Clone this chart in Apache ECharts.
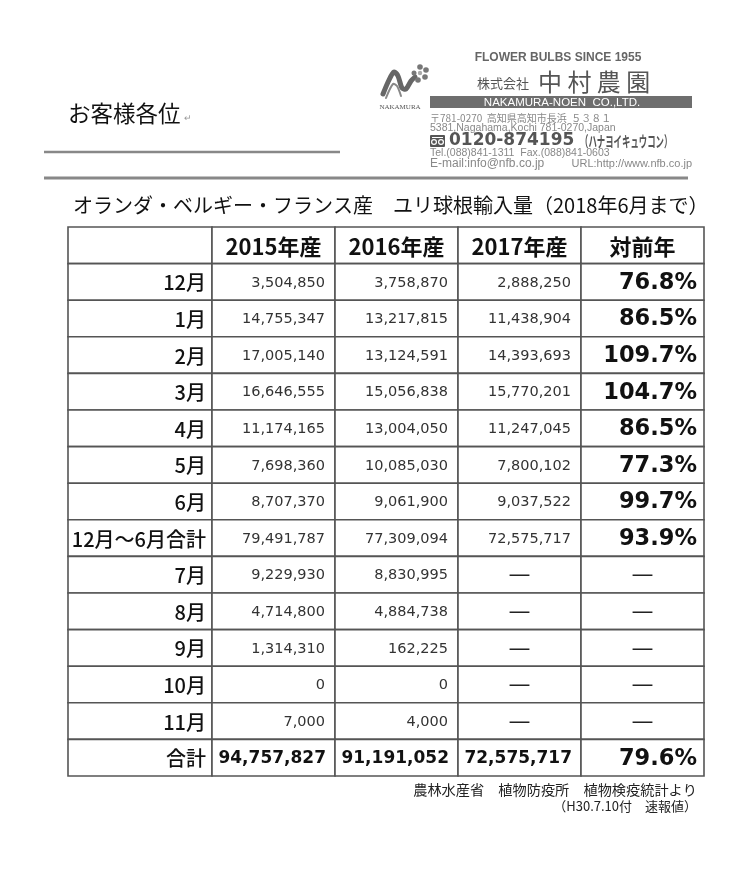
<!DOCTYPE html>
<html><head><meta charset="utf-8">
<script src="https://cdn.jsdelivr.net/npm/echarts@6/dist/echarts.min.js"></script>
<style>html,body{margin:0;padding:0;background:#fff}#c{width:752px;height:892px}</style>
</head><body><div id="c"></div>
<script>
const rowLabels = ['12月','1月','2月','3月','4月','5月','6月','12月～6月合計','7月','8月','9月','10月','11月','合計'];
const colHeaders = ['2015年産','2016年産','2017年産','対前年'];
const v2015 = [3504850,14755347,17005140,16646555,11174165,7698360,8707370,79491787,9229930,4714800,1314310,0,7000,94757827];
const v2016 = [3758870,13217815,13124591,15056838,13004050,10085030,9061900,77309094,8830995,4884738,162225,0,4000,91191052];
const v2017 = [2888250,11438904,14393693,15770201,11247045,7800102,9037522,72575717,null,null,null,null,null,72575717];
const yoy = [76.8,86.5,109.7,104.7,86.5,77.3,99.7,93.9,null,null,null,null,null,79.6];
const title = 'オランダ・ベルギー・フランス産　ユリ球根輸入量（2018年6月まで）';

const JP = '"Noto Sans CJK JP"';
const NUM = '"DejaVu Sans"';
const rows = [''].concat(rowLabels);
const lastRow = rowLabels.length;

const leftCells = rows.map((t, r) => ({v: [0, r], text: t, kind: 'label'}));
const rightCells = [];
rows.forEach((t, r) => {
  const cols = [v2015, v2016, v2017, yoy];
  for (let c = 0; c < 4; c++) {
    let text, kind;
    if (r === 0) { text = colHeaders[c]; kind = 'header'; }
    else {
      const val = cols[c][r - 1];
      if (val === null) { text = '—'; kind = 'dash'; }
      else if (c === 3) { text = val.toFixed(1) + '%'; kind = 'pct'; }
      else { text = val.toLocaleString('en-US'); kind = (r === lastRow) ? 'numBold' : 'num'; }
    }
    rightCells.push({v: [c, r], text, kind});
  }
});

function makeRender(cells) {
  return function (params, api) {
    const cell = cells[params.dataIndex];
    const c = api.coord([api.value(0), api.value(1)]);
    const s = api.size([1, 1]);
    const x = c[0] - s[0] / 2, y = c[1] - s[1] / 2, w = s[0], h = s[1];
    let ts;
    switch (cell.kind) {
      case 'header': ts = {x: x + w / 2, align: 'center', font: 'bold 22px ' + JP, fill: '#111'}; break;
      case 'label': ts = {x: x + w - 6, align: 'right', font: '500 20px ' + JP, fill: '#111'}; break;
      case 'num': ts = {x: x + w - 10, align: 'right', font: '14.5px ' + NUM, fill: '#333'}; break;
      case 'numBold': ts = {x: x + w - 9, align: 'right', font: 'bold 17px ' + NUM, fill: '#111'}; break;
      case 'pct': ts = {x: x + w - 7, align: 'right', font: 'bold 22.5px ' + NUM, fill: '#111'}; break;
      case 'dash': ts = {x: x + w / 2, align: 'center', font: '22px ' + NUM, fill: '#222'}; break;
    }
    return {
      type: 'group',
      children: [
        {type: 'rect', shape: {x, y, width: w, height: h}, style: {fill: '#fff', stroke: '#555', lineWidth: 1.6}},
        {type: 'text', x: ts.x, y: c[1] + 1, style: {text: cell.text, font: ts.font, fill: ts.fill, align: ts.align, verticalAlign: 'middle'}}
      ]
    };
  };
}

const T = (text, x, y, font, fill, align) => ({type: 'text', x, y, style: {text, font, fill: fill || '#111', align: align || 'left', verticalAlign: 'middle'}});

const kana = T('（ハナヨイキュウコン）', 580, 141, 'bold 15px ' + JP, '#555');
kana.scaleX = 0.56;

const graphics = [
  T('お客様各位', 68, 113, '22.5px ' + JP, '#111'),
  T('↵', 184, 118, '9px ' + JP, '#999'),
  {type: 'line', shape: {x1: 44, y1: 152, x2: 340, y2: 152}, style: {stroke: '#888', lineWidth: 2.5}},
  {type: 'line', shape: {x1: 44, y1: 178, x2: 688, y2: 178}, style: {stroke: '#888', lineWidth: 3}},
  {type: 'polyline', shape: {points: [[383, 94], [389, 80], [394, 72], [398, 76], [402, 88], [406, 89], [411, 81], [415, 77]], smooth: 0.3}, style: {stroke: '#666', lineWidth: 5, fill: null, lineCap: 'round'}},
  {type: 'polyline', shape: {points: [[386, 98], [393, 84], [397, 86], [401, 96]], smooth: 0.3}, style: {stroke: '#888', lineWidth: 2, fill: null, lineCap: 'round'}},
  {type: 'circle', shape: {cx: 420, cy: 67, r: 2.8}, style: {fill: '#777'}},
  {type: 'circle', shape: {cx: 426, cy: 70, r: 2.8}, style: {fill: '#777'}},
  {type: 'circle', shape: {cx: 425, cy: 77, r: 2.8}, style: {fill: '#777'}},
  {type: 'circle', shape: {cx: 418, cy: 80, r: 2.8}, style: {fill: '#777'}},
  {type: 'circle', shape: {cx: 414, cy: 73, r: 2.5}, style: {fill: '#777'}},
  {type: 'circle', shape: {cx: 420, cy: 73, r: 2.2}, style: {fill: '#aaa'}},
  T('NAKAMURA', 400, 107, '7px "Liberation Serif"', '#555', 'center'),
  T('FLOWER BULBS SINCE 1955', 558, 58, 'bold 12px "Liberation Sans"', '#666', 'center'),
  T('株式会社', 477, 83, '13px ' + JP, '#555'),
  T('中 村 農 園', 538, 82, '24px ' + JP, '#555'),
  {type: 'rect', shape: {x: 430, y: 96, width: 262, height: 12}, style: {fill: '#6e6e6e'}},
  T('NAKAMURA-NOEN  CO.,LTD.', 562, 102.5, '11.5px "Liberation Sans"', '#fff', 'center'),
  T('〒781-0270  高知県高知市長浜  ５３８１', 430, 118, '10px ' + JP, '#888'),
  T('5381,Nagahama,Kochi 781-0270,Japan', 430, 128, '10.5px "Liberation Sans"', '#888'),
  {type: 'rect', shape: {x: 430, y: 135, width: 15, height: 12, r: 1}, style: {fill: '#555'}},
  {type: 'circle', shape: {cx: 434, cy: 142, r: 2.4}, style: {fill: 'none', stroke: '#fff', lineWidth: 1.2}},
  {type: 'circle', shape: {cx: 441, cy: 142, r: 2.4}, style: {fill: 'none', stroke: '#fff', lineWidth: 1.2}},
  {type: 'line', shape: {x1: 432, y1: 137.5, x2: 443, y2: 137.5}, style: {stroke: '#fff', lineWidth: 1}},
  T('0120-874195', 449, 141, 'bold 17px "DejaVu Sans"', '#555'),
  kana,
  T('Tel.(088)841-1311  Fax.(088)841-0603', 430, 153, '10.5px "Liberation Sans"', '#888'),
  T('E-mail:info@nfb.co.jp', 430, 164, '12px "Liberation Sans"', '#888'),
  T('URL:http://www.nfb.co.jp', 692, 164, '11px "Liberation Sans"', '#888', 'right'),
  T(title, 73, 205, '20px ' + JP, '#111'),
  T('農林水産省　植物防疫所　植物検疫統計より', 697, 790, '14.2px ' + JP, '#222', 'right'),
  T('（H30.7.10付　速報値）', 697, 806, '13px ' + JP, '#222', 'right')
];

const chart = echarts.init(document.getElementById('c'), null, {renderer: 'canvas'});
const gridTop = 227, gridH = 549;
chart.setOption({
  backgroundColor: '#fff',
  animation: false,
  grid: [
    {left: 68, top: gridTop, width: 144, height: gridH},
    {left: 212, top: gridTop, width: 492, height: gridH}
  ],
  xAxis: [
    {gridIndex: 0, type: 'category', data: ['row'], show: false},
    {gridIndex: 1, type: 'category', data: colHeaders, show: false}
  ],
  yAxis: [
    {gridIndex: 0, type: 'category', data: rows, inverse: true, show: false},
    {gridIndex: 1, type: 'category', data: rows, inverse: true, show: false}
  ],
  series: [
    {type: 'custom', xAxisIndex: 0, yAxisIndex: 0, data: leftCells.map(d => d.v), renderItem: makeRender(leftCells)},
    {type: 'custom', xAxisIndex: 1, yAxisIndex: 1, data: rightCells.map(d => d.v), renderItem: makeRender(rightCells)}
  ],
  graphic: graphics
});
</script></body></html>
